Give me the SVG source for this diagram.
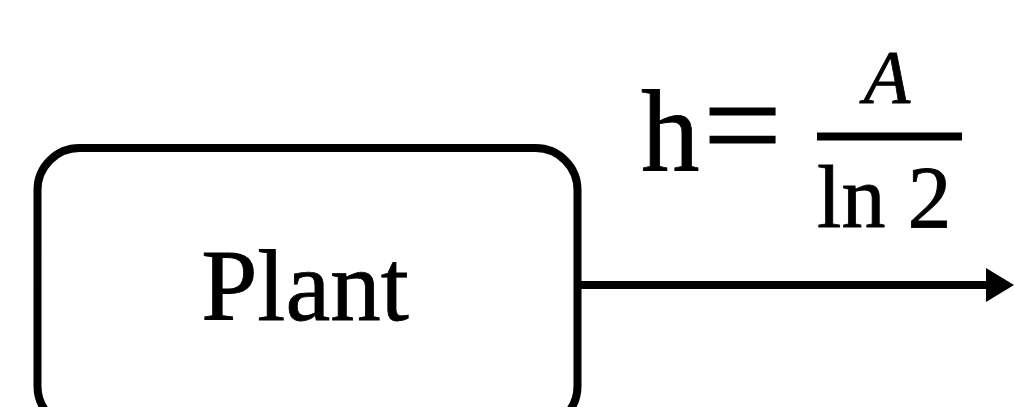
<svg xmlns="http://www.w3.org/2000/svg" width="1014" height="407" viewBox="0 0 1014 407">
  <style>
    .serif { font-family: "Liberation Serif", "Times New Roman", serif; fill: #000; stroke: #000; stroke-width: 0.8; }
    .box { fill: #fff; stroke: #000; stroke-width: 8; }
    .conn { stroke: #000; stroke-width: 8; fill: none; }
  </style>
  <defs>
    <marker id="arrow" markerUnits="userSpaceOnUse" markerWidth="28" markerHeight="34" refX="0" refY="17" orient="auto">
      <polygon points="0,0 28,17 0,34" fill="#000"/>
    </marker>
  </defs>
  <rect width="1014" height="407" fill="#fff"/>
  <g id="plant">
    <rect class="box" x="37.5" y="148" width="540" height="280" rx="42" ry="42"/>
    <text class="serif" x="305" y="320" font-size="101" text-anchor="middle">Plant</text>
  </g>
  <g id="connectors">
    <line class="conn" x1="578" y1="285" x2="986" y2="285" marker-end="url(#arrow)"/>
  </g>
  <g id="label">
    <text class="serif" x="641" y="170" font-size="117">h</text>
    <text class="serif" x="703" y="172" font-size="140" stroke-width="3">=</text>
    <text class="serif" x="887" y="103" font-size="76" font-style="italic" text-anchor="middle">A</text>
    <rect x="817" y="132.5" width="145" height="8" fill="#000"/>
    <text class="serif" x="817" y="227" font-size="88" stroke-width="1.6">ln 2</text>
  </g>
</svg>
